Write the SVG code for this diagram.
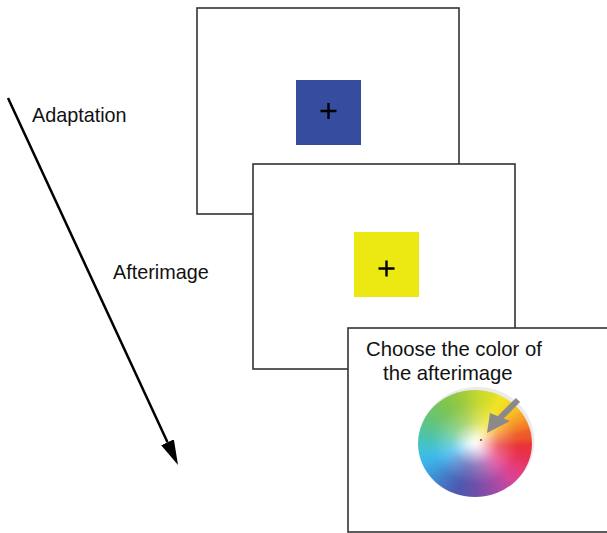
<svg xmlns="http://www.w3.org/2000/svg" xmlns:xlink="http://www.w3.org/1999/xlink" width="607" height="533" viewBox="0 0 607 533">
<style>
.frame{fill:#ffffff;stroke:#333333;stroke-width:1.6}
.cross{stroke:#000000;stroke-width:2.4;fill:none}
.lbl{font-family:"Liberation Sans",Arial,sans-serif;font-size:19.8px;fill:#111111}
.conn{stroke:#000000;stroke-width:2.5;fill:none}
</style>
<defs>
<marker id="head" viewBox="0 0 25 14" refX="0" refY="7" markerWidth="25" markerHeight="14" markerUnits="userSpaceOnUse" orient="auto">
<path d="M0 0 L25 7 L0 14 Z" fill="#000000"/>
</marker>
<path id="wedge" d="M0 0 L62 0 A62 62 0 0 1 60.16 14.99 Z"/>
<radialGradient id="whiteC" cx="0" cy="0" r="57" gradientUnits="userSpaceOnUse">
<stop offset="0" stop-color="#ffffff" stop-opacity="1"/>
<stop offset="0.1" stop-color="#ffffff" stop-opacity="0.85"/>
<stop offset="0.4" stop-color="#ffffff" stop-opacity="0.25"/>
<stop offset="0.75" stop-color="#ffffff" stop-opacity="0"/>
</radialGradient>
<clipPath id="wheelClip">
<ellipse cx="475" cy="443.5" rx="57" ry="53.6"/>
</clipPath>
<filter id="soft" x="-20%" y="-20%" width="140%" height="140%">
<feGaussianBlur stdDeviation="2.5"/>
</filter>
</defs>
<rect width="607" height="533" fill="#ffffff"/>

<g id="frame-adaptation">
<rect class="frame" x="197" y="8" width="262" height="206"/>
<rect x="296" y="80" width="65" height="65" fill="#364c9e"/>
<path class="cross" d="M320.5 111 H336.5 M328.5 103 V119"/>
</g>

<g id="frame-afterimage">
<rect class="frame" x="253" y="164" width="262" height="205"/>
<rect x="354" y="232" width="65" height="65" fill="#ece812"/>
<path class="cross" d="M378.5 268.5 H394.5 M386.5 260.5 V276.5"/>
</g>

<g id="frame-choose">
<rect class="frame" x="348" y="328" width="270" height="204"/>
<text class="lbl" x="366" y="356" style="font-size:20.3px">Choose the color of</text>
<text class="lbl" x="383" y="380" style="font-size:20.3px">the afterimage</text>
<ellipse cx="477" cy="441" rx="57.5" ry="54" fill="#ebebeb"/>
<g clip-path="url(#wheelClip)">
<g filter="url(#soft)">
<g transform="translate(475,443.5) scale(1,0.94)">
<use xlink:href="#wedge" transform="rotate(-7)" fill="#e8322e"/>
<use xlink:href="#wedge" transform="rotate(3)" fill="#e93040"/>
<use xlink:href="#wedge" transform="rotate(13)" fill="#e83358"/>
<use xlink:href="#wedge" transform="rotate(23)" fill="#e63a70"/>
<use xlink:href="#wedge" transform="rotate(33)" fill="#e04088"/>
<use xlink:href="#wedge" transform="rotate(43)" fill="#d0479a"/>
<use xlink:href="#wedge" transform="rotate(53)" fill="#b84aa2"/>
<use xlink:href="#wedge" transform="rotate(63)" fill="#9e4ca6"/>
<use xlink:href="#wedge" transform="rotate(73)" fill="#864ea8"/>
<use xlink:href="#wedge" transform="rotate(83)" fill="#7050a8"/>
<use xlink:href="#wedge" transform="rotate(93)" fill="#5e52aa"/>
<use xlink:href="#wedge" transform="rotate(103)" fill="#5058b0"/>
<use xlink:href="#wedge" transform="rotate(113)" fill="#4866b8"/>
<use xlink:href="#wedge" transform="rotate(123)" fill="#4478c4"/>
<use xlink:href="#wedge" transform="rotate(133)" fill="#3f8cd2"/>
<use xlink:href="#wedge" transform="rotate(143)" fill="#3ca2e0"/>
<use xlink:href="#wedge" transform="rotate(153)" fill="#3cb4e8"/>
<use xlink:href="#wedge" transform="rotate(163)" fill="#40bedf"/>
<use xlink:href="#wedge" transform="rotate(173)" fill="#44c2c8"/>
<use xlink:href="#wedge" transform="rotate(183)" fill="#4cc4ae"/>
<use xlink:href="#wedge" transform="rotate(193)" fill="#58c495"/>
<use xlink:href="#wedge" transform="rotate(203)" fill="#64c47e"/>
<use xlink:href="#wedge" transform="rotate(213)" fill="#6ec46a"/>
<use xlink:href="#wedge" transform="rotate(223)" fill="#78c45a"/>
<use xlink:href="#wedge" transform="rotate(233)" fill="#84c64e"/>
<use xlink:href="#wedge" transform="rotate(243)" fill="#92c844"/>
<use xlink:href="#wedge" transform="rotate(253)" fill="#a4cc3c"/>
<use xlink:href="#wedge" transform="rotate(263)" fill="#b8d434"/>
<use xlink:href="#wedge" transform="rotate(273)" fill="#ccda2e"/>
<use xlink:href="#wedge" transform="rotate(283)" fill="#dede28"/>
<use xlink:href="#wedge" transform="rotate(293)" fill="#f0e426"/>
<use xlink:href="#wedge" transform="rotate(303)" fill="#f6d824"/>
<use xlink:href="#wedge" transform="rotate(313)" fill="#f8c024"/>
<use xlink:href="#wedge" transform="rotate(323)" fill="#f8a226"/>
<use xlink:href="#wedge" transform="rotate(333)" fill="#f48228"/>
<use xlink:href="#wedge" transform="rotate(343)" fill="#ee5a2c"/>
<circle r="60" fill="url(#whiteC)"/>
</g>
</g>
</g>
<path d="M518 400 L500 418" stroke="#8a8a8a" stroke-width="6" fill="none"/>
<path d="M487 433 L490 413 L510 421 Z" fill="#8a8a8a"/>
<circle cx="481" cy="440" r="1.1" fill="#555555"/>
</g>

<g id="connectors">
<path class="conn" d="M8 98 L167.5 442.3" marker-end="url(#head)"/>
</g>

<g id="labels">
<text class="lbl" x="32" y="122">Adaptation</text>
<text class="lbl" x="113" y="279">Afterimage</text>
</g>
</svg>
